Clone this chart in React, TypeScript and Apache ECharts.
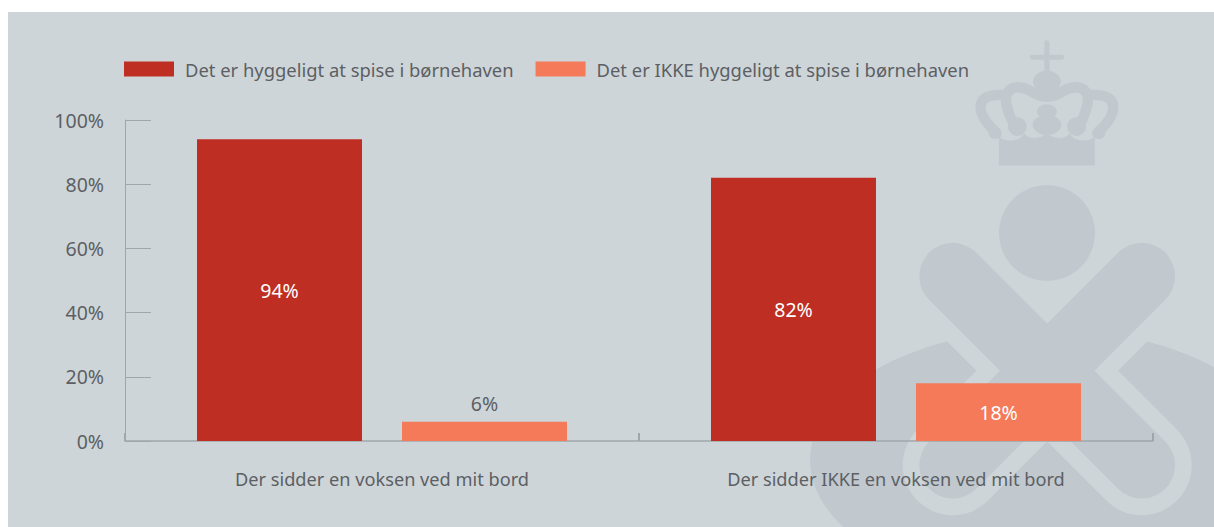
import React, { useEffect, useRef } from "react";
import * as echarts from "echarts";

const categories = ["Der sidder en voksen ved mit bord", "Der sidder IKKE en voksen ved mit bord"];
const seriesNames = ["Det er hyggeligt at spise i børnehaven", "Det er IKKE hyggeligt at spise i børnehaven"];
const pleasantValues = [94, 82];
const notPleasantValues = [6, 18];

const FONT = "Noto Sans";
const TEXT = "#5c6064";
const PANEL = "#ced5d8";
const MARK = "#c1c9cf";
const AXIS = "#a0a7ab";
const DARK_RED = "#be2e23";
const SALMON = "#f47a5a";

echarts.graphic.registerShape("crownStrokes", echarts.graphic.extendPath(
  "M95 295 C70 270 45 245 47 212 C50 185 80 178 118 180 M140 255 C125 220 115 190 130 170 C145 150 175 155 200 170 C215 180 230 185 246 185 " +
  "M397 295 C422 270 447 245 445 212 C442 185 412 178 374 180 M352 255 C367 220 377 190 362 170 C347 150 317 155 292 170 C277 180 262 185 246 185",
  {}) as any);

echarts.graphic.registerShape("crownBase", echarts.graphic.extendPath(
  "M102 392 L102 305 C115 318 140 322 165 310 L178 295 C190 310 215 318 246 295 C277 318 302 310 314 295 L327 310 C352 322 377 318 390 305 L390 392 Z",
  {}) as any);

function watermark() {
  const z = -1;
  const cx = 1047.2;
  const cy = 370.7;
  const arm = 94.5;
  const stroke = (color: string, width: number) => ({ stroke: color, lineWidth: width, lineCap: "round", fill: "none" });
  const xLines = (color: string, width: number) => [
    { type: "line", z, silent: true, shape: { x1: cx - arm, y1: cy - arm, x2: cx + arm, y2: cy + arm }, style: stroke(color, width) },
    { type: "line", z, silent: true, shape: { x1: cx + arm, y1: cy - arm, x2: cx - arm, y2: cy + arm }, style: stroke(color, width) },
  ];
  const ball = (x: number, y: number, rx: number, ry: number) => ({
    type: "ellipse", z, silent: true, shape: { cx: x, cy: y, rx, ry }, style: { fill: MARK },
  });
  return [
    { type: "rect", z, silent: true, shape: { x: 8, y: 12, width: 1206, height: 515 }, style: { fill: PANEL } },
    { type: "ellipse", z, silent: true, shape: { cx: 1047, cy: 460, rx: 237, ry: 130.7 }, style: { fill: MARK } },
    ...xLines(PANEL, 100),
    ...xLines(MARK, 66.7),
    { type: "circle", z, silent: true, shape: { cx: 1047, cy: 233, r: 48 }, style: { fill: MARK } },
    {
      type: "group", x: 965, y: 35, scaleX: 1 / 3, scaleY: 1 / 3, silent: true,
      children: [
        { type: "crownStrokes", z, style: { fill: "none", stroke: MARK, lineWidth: 31, lineCap: "round" } },
        { type: "crownBase", z, style: { fill: MARK } },
        { type: "line", z, shape: { x1: 246, y1: 24, x2: 246, y2: 115 }, style: stroke(MARK, 16) },
        { type: "line", z, shape: { x1: 202, y1: 67, x2: 290, y2: 67 }, style: stroke(MARK, 15) },
        ball(246, 140, 42, 33),
        ball(246, 230, 30, 22),
        ball(246, 270, 43, 30),
        ball(157, 275, 28, 28),
        ball(335, 275, 28, 28),
        ball(88, 292, 18, 20),
        ball(404, 292, 18, 20),
      ],
    },
  ];
}

export default function App() {
  const ref = useRef<HTMLDivElement>(null);
  useEffect(() => {
    const chart = echarts.init(ref.current!, undefined, { renderer: "svg" });
    const label = { show: true, position: "inside", color: "#ffffff", fontFamily: FONT, fontSize: 19.5, formatter: "{c}%" };
    chart.setOption({
      animation: false,
      backgroundColor: "#ffffff",
      graphic: { elements: watermark() },
      legend: {
        left: 124,
        top: 60,
        padding: 0,
        itemWidth: 50,
        itemHeight: 15,
        itemGap: 22,
        icon: "rect",
        textStyle: { color: TEXT, fontFamily: FONT, fontSize: 18.4, padding: [2, 0, 0, 6] },
        data: seriesNames,
      },
      grid: { left: 125, top: 120, width: 1028, height: 321 },
      xAxis: {
        type: "category",
        data: categories,
        axisLine: { lineStyle: { color: AXIS, width: 1.5 } },
        axisTick: { show: true, inside: true, length: 8, lineStyle: { color: AXIS, width: 2 } },
        axisLabel: { color: TEXT, fontFamily: FONT, fontSize: 18.2, margin: 29 },
      },
      yAxis: {
        type: "value",
        min: 0,
        max: 100,
        interval: 20,
        splitLine: { show: false },
        axisLine: { show: true, lineStyle: { color: AXIS, width: 1 } },
        axisTick: { show: true, inside: true, length: 26, lineStyle: { color: AXIS, width: 1 } },
        axisLabel: { color: TEXT, fontFamily: FONT, fontSize: 19.5, margin: 21, padding: [0, 0, 2, 0], formatter: "{value}%" },
      },
      series: [
        {
          name: seriesNames[0], type: "bar", barWidth: 165, barGap: "24.24%",
          itemStyle: { color: DARK_RED }, label, data: pleasantValues,
        },
        {
          name: seriesNames[1], type: "bar", barWidth: 165, barGap: "24.24%",
          itemStyle: { color: SALMON }, label,
          data: notPleasantValues.map((value, i) =>
            i === 0 ? { value, label: { position: "top", distance: 8, color: TEXT } } : { value }),
        },
      ],
    });
    return () => chart.dispose();
  }, []);
  return <div ref={ref} style={{ position: "fixed", left: 0, top: 0, width: 1214, height: 527 }} />;
}
